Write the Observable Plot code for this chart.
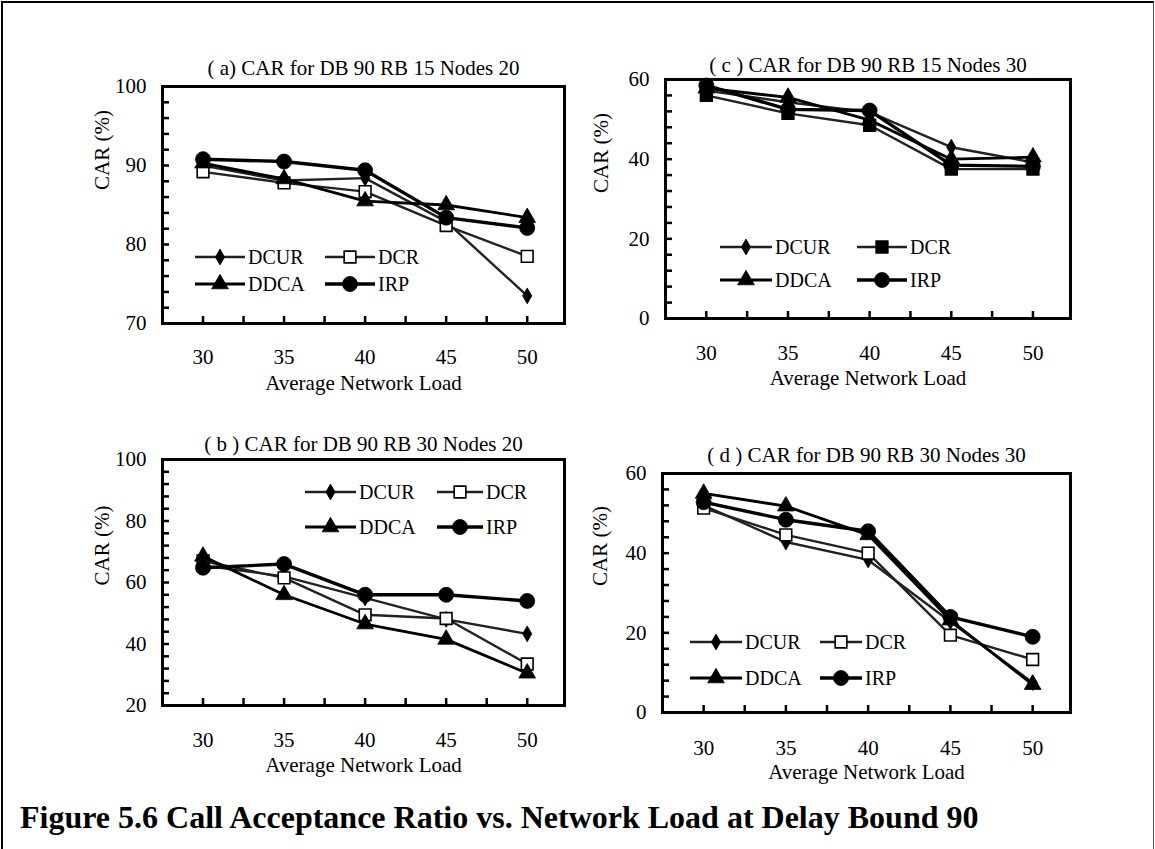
<!DOCTYPE html>
<html>
<head>
<meta charset="utf-8">
<script src="https://cdn.jsdelivr.net/npm/d3@7"></script>
<script src="https://cdn.jsdelivr.net/npm/@observablehq/plot@0.6"></script>
<style>
html, body { margin: 0; padding: 0; background: #fff; overflow: hidden; }
#page { position: relative; width: 1155px; height: 849px; font-family: "Liberation Serif", "Times New Roman", serif; color: #000; }
#page svg text { font-family: "Liberation Serif", "Times New Roman", serif; }
#border { position: absolute; left: 1px; top: 1px; width: 1150px; height: 900px; border-left: 2px solid #000; border-top: 2px solid #000; border-right: 1px solid #555; }
#caption { position: absolute; left: 20px; top: 801px; font-size: 32px; line-height: 32px; font-weight: bold; white-space: nowrap; }
</style>
</head>
<body>
<div id="page">
  <div id="border"></div>
  <div id="caption">Figure 5.6 Call Acceptance Ratio vs. Network Load at Delay Bound 90</div>
</div>
<script>
// ---------- data ----------
const loads = [30, 35, 40, 45, 50];
const xTickLabels = [30, 35, 40, 45, 50];
const seriesNames = ["DCUR", "DCR", "DDCA", "IRP"];
const panelTitles = [
  "( a) CAR for DB 90 RB 15 Nodes 20",
  "( b ) CAR for DB 90 RB 30 Nodes 20",
  "( c ) CAR for DB 90 RB 15 Nodes 30",
  "( d ) CAR for DB 90 RB 30 Nodes 30"
];
const xAxisTitle = "Average Network Load";
const yAxisTitle = "CAR (%)";

// (a) DB 90 RB 15 Nodes 20
const aDCUR = [90.0, 88.1, 88.4, 82.9, 73.5];
const aDCR  = [89.2, 87.8, 86.7, 82.4, 78.5];
const aDDCA = [90.3, 88.3, 85.5, 85.0, 83.4];
const aIRP  = [90.8, 90.5, 89.4, 83.4, 82.1];
// (b) DB 90 RB 30 Nodes 20
const bDCUR = [65.5, 62.0, 55.0, 48.0, 43.3];
const bDCR  = [67.0, 61.5, 49.5, 48.3, 33.5];
const bDDCA = [68.5, 56.0, 46.5, 41.5, 30.5];
const bIRP  = [64.8, 66.0, 56.0, 56.0, 54.0];
// (c) DB 90 RB 15 Nodes 30
const cDCUR = [57.2, 54.3, 51.8, 43.0, 39.2];
const cDCR  = [56.0, 51.5, 48.5, 37.5, 37.5];
const cDDCA = [57.8, 55.5, 49.8, 40.0, 40.5];
const cIRP  = [58.5, 52.5, 52.2, 38.5, 38.2];
// (d) DB 90 RB 30 Nodes 30
const dDCUR = [52.0, 42.8, 38.3, 22.8, 7.5];
const dDCR  = [51.3, 44.6, 40.0, 19.4, 13.3];
const dDDCA = [55.0, 51.8, 44.6, 23.2, 7.0];
const dIRP  = [52.8, 48.4, 45.5, 24.0, 19.0];

const yTicksA = [70, 80, 90, 100];
const yTicksB = [20, 40, 60, 80, 100];
const yTicksC = [0, 20, 40, 60];
const yTicksD = [0, 20, 40, 60];

// ---------- layout / style ----------
const PAGE_W = 1155, PAGE_H = 849;
const FONT = "Liberation Serif, Times New Roman, serif";
const seriesStyle = {
  DCUR: {lineWidth: 2.4, stroke: "#222", symbol: "diamond", r: 4.8, fill: "#000"},
  DCR:  {lineWidth: 2.4, stroke: "#222", symbol: "square", r: 6.6, fill: "#fff"},
  DDCA: {lineWidth: 2.8, stroke: "#000", symbol: "triangle", r: 6.2, fill: "#000"},
  IRP:  {lineWidth: 3.4, stroke: "#000", symbol: "circle", r: 7.5, fill: "#000"}
};

const panels = [
  {title: panelTitles[0], values: [aDCUR, aDCR, aDDCA, aIRP], yTicks: yTicksA, yStep: 2,
   frame: [162, 86, 564, 323], titleDy: -26, xPad: 26, yTitleDx: -60, yTitleDy: -15, dcrFilled: false,
   legend: {x: 195, y: 257, col: 130, row: 27, len: [50, 50]}},
  {title: panelTitles[1], values: [bDCUR, bDCR, bDDCA, bIRP], yTicks: yTicksB, yStep: 4,
   frame: [162, 459, 564, 705], titleDy: -23, xPad: 27, yTitleDx: -60, yTitleDy: 3, dcrFilled: false,
   legend: {x: 305, y: 492, col: 132, row: 35, len: [51, 46]}},
  {title: panelTitles[2], values: [cDCUR, cDCR, cDDCA, cIRP], yTicks: yTicksC, yStep: 4,
   frame: [665, 79, 1070, 318], titleDy: -22, xPad: 27, yTitleDx: -64, yTitleDy: -6, dcrFilled: true,
   legend: {x: 720, y: 247, col: 137, row: 33, len: [52, 50]}},
  {title: panelTitles[3], values: [dDCUR, dDCR, dDDCA, dIRP], yTicks: yTicksD, yStep: 4,
   frame: [662, 473, 1070, 712], titleDy: -26, xPad: 28, yTitleDx: -62, yTitleDy: -7, dcrFilled: false,
   legend: {x: 690, y: 642, col: 130, row: 36, len: [52, 42]}}
];

const page = document.getElementById("page");
const xMinor = d3.range(30, 50.001, 2.5);

function drawPanel(p) {
  const [L, T, R, B] = p.frame;
  const W = R - L, H = B - T;
  const yMinor = d3.range(p.yTicks[0], p.yTicks[p.yTicks.length - 1] + 0.001, p.yStep);
  const marks = [
    Plot.ruleX(xMinor, {x: d => d, insetTop: H - 7, stroke: "#000", strokeWidth: 2.5}),
    Plot.ruleY(yMinor, {y: d => d, insetRight: W - 7, stroke: "#000", strokeWidth: 2.5}),
    Plot.axisX({ticks: xTickLabels, tickSize: 0, tickPadding: p.xPad, fontSize: 21, fontFamily: FONT, tickFormat: d => String(d), label: null}),
    Plot.axisY({ticks: p.yTicks, tickSize: 0, tickPadding: 16, fontSize: 21, fontFamily: FONT, tickFormat: d => String(d), label: null})
  ];
  seriesNames.forEach((s, i) => {
    const rows = loads.map((x, j) => ({series: s, load: x, car: p.values[i][j]}));
    const st = seriesStyle[s];
    marks.push(Plot.line(rows, {x: "load", y: "car", stroke: st.stroke, strokeWidth: st.lineWidth, strokeLinejoin: "round"}));
    const fill = s === "DCR" && p.dcrFilled ? "#000" : st.fill;
    marks.push(Plot.dot(rows, {x: "load", y: "car", symbol: st.symbol, r: st.r, fill: fill, stroke: "#000", strokeWidth: s === "DCR" ? 1.6 : 0.8}));
  });
  marks.push(Plot.frame({stroke: "#000", strokeWidth: 3}));
  marks.push(Plot.text([p.title], {text: d => d, frameAnchor: "top", dy: p.titleDy, fontSize: 21, fontFamily: FONT}));
  marks.push(Plot.text([xAxisTitle], {text: d => d, frameAnchor: "bottom", dy: 66, fontSize: 21, fontFamily: FONT}));
  marks.push(Plot.text([yAxisTitle], {text: d => d, frameAnchor: "left", rotate: -90, dx: p.yTitleDx, dy: p.yTitleDy, fontSize: 21, fontFamily: FONT}));

  const svg = Plot.plot({
    width: PAGE_W, height: PAGE_H,
    marginLeft: L, marginTop: T, marginRight: PAGE_W - R, marginBottom: PAGE_H - B,
    x: {domain: [27.5, 52.3]},
    y: {domain: [p.yTicks[0], p.yTicks[p.yTicks.length - 1]]},
    style: {background: "transparent", overflow: "visible", fontFamily: FONT, fontSize: "21px", color: "#000", maxWidth: "none"},
    marks
  });
  svg.style.position = "absolute";
  svg.style.left = "0px";
  svg.style.top = "0px";
  svg.style.pointerEvents = "none";
  page.appendChild(svg);
}
panels.forEach(drawPanel);

// ---------- legends (overlay) ----------
const legendSvg = d3.select(page).append("svg")
  .attr("width", PAGE_W).attr("height", PAGE_H)
  .style("position", "absolute").style("left", "0px").style("top", "0px")
  .style("font-family", FONT).style("font-size", "20px");
const symMap = {diamond: d3.symbolDiamond, square: d3.symbolSquare, triangle: d3.symbolTriangle, circle: d3.symbolCircle};
panels.forEach(p => {
  const lg = p.legend;
  seriesNames.forEach((s, i) => {
    const col = i % 2, row = Math.floor(i / 2);
    const x0 = lg.x + col * lg.col, y0 = lg.y + row * lg.row, len = lg.len[col];
    const st = seriesStyle[s];
    const g = legendSvg.append("g");
    g.append("line").attr("x1", x0).attr("x2", x0 + len).attr("y1", y0).attr("y2", y0)
      .attr("stroke", st.stroke).attr("stroke-width", st.lineWidth);
    const fill = s === "DCR" && p.dcrFilled ? "#000" : st.fill;
    g.append("path").attr("d", d3.symbol(symMap[st.symbol], Math.PI * st.r * st.r)())
      .attr("transform", `translate(${x0 + len / 2},${y0})`)
      .attr("fill", fill).attr("stroke", "#000").attr("stroke-width", s === "DCR" ? 1.6 : 0.8);
    g.append("text").attr("x", x0 + len + 3).attr("y", y0 + 7).text(s);
  });
});
</script>
</body>
</html>
